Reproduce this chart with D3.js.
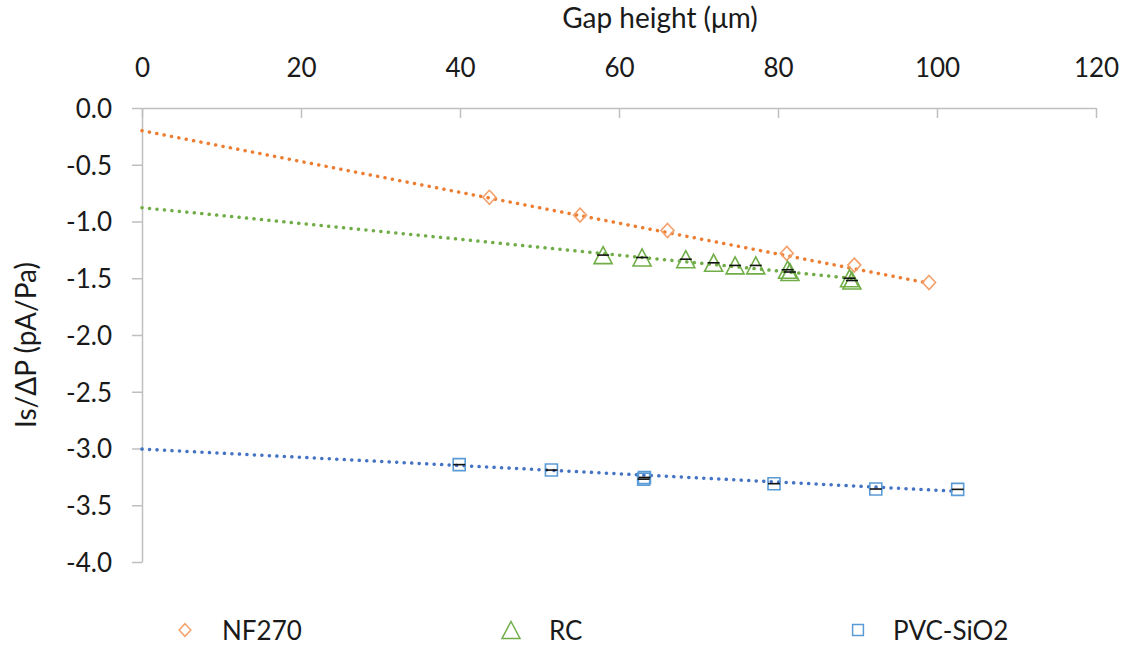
<!DOCTYPE html>
<html>
<head>
<meta charset="utf-8">
<script src="https://cdn.jsdelivr.net/npm/d3@7"></script>
<style>
  html, body { margin: 0; padding: 0; background: #fff; }
  svg { display: block; font-family: Lato, "Open Sans", sans-serif; }
</style>
</head>
<body>
<svg id="chart" width="1130" height="645"></svg>
<script>
// ---- data ----
const xTicks = [0, 20, 40, 60, 80, 100, 120];
const yTicks = [0, -0.5, -1, -1.5, -2, -2.5, -3, -3.5, -4];

const nf270X = [43.7, 55.1, 66.1, 81.1, 89.6, 99.0];
const nf270Y = [-0.787, -0.944, -1.079, -1.281, -1.384, -1.537];

const rcX = [58.0, 62.9, 68.4, 71.9, 74.6, 77.2, 81.2, 81.5, 89.0, 89.3];
const rcY = [-1.296, -1.317, -1.332, -1.364, -1.387, -1.387, -1.425, -1.445, -1.500, -1.520];

const pvcX = [39.9, 51.5, 63.2, 63.1, 79.5, 92.3, 102.6];
const pvcY = [-3.142, -3.190, -3.255, -3.270, -3.310, -3.357, -3.360];

// linear trendlines: value at x=0 and slope
const trendIntercept = [-0.200, -0.878, -3.005];
const trendSlope = [-0.01358, -0.00697, -0.00363];

const seriesNames = ["NF270", "RC", "PVC-SiO2"];

// ---- setup ----
const svg = d3.select("#chart");
const x = d3.scaleLinear().domain([0, 120]).range([142, 1096]);
const y = d3.scaleLinear().domain([-4, 0]).range([562, 108]);
const axisColor = "#bfbfbf";
const textColor = "#1a1a1a";
const fontSize = 26;
const titleSize = 28;

// axes
const gx = svg.append("g").attr("transform", `translate(0,${y(0)})`)
  .call(d3.axisTop(x).tickValues(xTicks).tickSizeInner(-10).tickSizeOuter(0).tickPadding(31).tickFormat(d => String(d)));
const gy = svg.append("g").attr("transform", `translate(${x(0)},0)`)
  .call(d3.axisLeft(y).tickValues(yTicks).tickSizeInner(10).tickSizeOuter(0).tickPadding(20).tickFormat(d => d.toFixed(1)));
[gx, gy].forEach(g => {
  g.selectAll("path.domain").attr("stroke", axisColor).attr("stroke-width", 1.5);
  g.selectAll(".tick line").attr("stroke", axisColor).attr("stroke-width", 1.5);
  g.selectAll(".tick text").attr("fill", textColor).style("font-size", fontSize + "px").style("font-family", "Lato, sans-serif");
});
gy.selectAll(".tick text").attr("dy", "0.36em");

// titles
svg.append("text").attr("x", 660).attr("y", 28).attr("text-anchor", "middle")
  .attr("fill", textColor).style("font-size", titleSize + "px").text("Gap height (μm)");
svg.append("text").attr("transform", "translate(36,345) rotate(-90)").attr("text-anchor", "middle")
  .attr("fill", textColor).style("font-size", titleSize + "px").text("Is/ΔP (pA/Pa)");

const series = [
  { xs: nf270X, ys: nf270Y, line: "#ed7d31", mark: "#f4a06c", shape: "diamond", err: false },
  { xs: rcX, ys: rcY, line: "#70ad47", mark: "#70ad47", shape: "triangle", err: true },
  { xs: pvcX, ys: pvcY, line: "#4472c4", mark: "#5b9bd5", shape: "square", err: true }
];

function shapePath(shape, s) {
  if (shape === "diamond") return `M0,${-7*s}L${6.5*s},0L0,${7*s}L${-6.5*s},0Z`;
  if (shape === "triangle") return `M0,${-8.5*s}L${9*s},${8.5*s}L${-9*s},${8.5*s}Z`;
  return `M${-6*s},${-6*s}H${6*s}V${6*s}H${-6*s}Z`;
}

// trendlines
series.forEach((s, i) => {
  const f = xv => trendIntercept[i] + trendSlope[i] * xv;
  const xmax = d3.max(s.xs);
  svg.append("line")
    .attr("x1", x(0)).attr("y1", y(f(0)))
    .attr("x2", x(xmax)).attr("y2", y(f(xmax)))
    .attr("stroke", s.line).attr("stroke-width", 3.5)
    .attr("stroke-linecap", "round").attr("stroke-dasharray", "0.1 7.4");
});

// markers
series.forEach(s => {
  const pts = s.xs.map((v, i) => [v, s.ys[i]]);
  const g = svg.append("g");
  g.selectAll("path").data(pts).join("path")
    .attr("transform", d => `translate(${x(d[0])},${y(d[1])})`)
    .attr("d", shapePath(s.shape, 1))
    .attr("fill", "none").attr("stroke", s.mark).attr("stroke-width", 1.6);
  if (s.err) {
    g.selectAll("line").data(pts).join("line")
      .attr("x1", d => x(d[0]) - 6).attr("x2", d => x(d[0]) + 6)
      .attr("y1", d => y(d[1])).attr("y2", d => y(d[1]))
      .attr("stroke", "#111").attr("stroke-width", 1.6);
  }
});

// legend
const legendPos = [[185, 222], [511, 549], [858, 893]];
series.forEach((s, i) => {
  const sc = s.shape === "triangle" ? 1.0 : 0.9;
  svg.append("path").attr("transform", `translate(${legendPos[i][0]},630)`)
    .attr("d", shapePath(s.shape, sc))
    .attr("fill", "none").attr("stroke", s.mark).attr("stroke-width", 1.5);
  svg.append("text").attr("x", legendPos[i][1]).attr("y", 640)
    .attr("fill", textColor).style("font-size", fontSize + "px").text(seriesNames[i]);
});
</script>
</body>
</html>
